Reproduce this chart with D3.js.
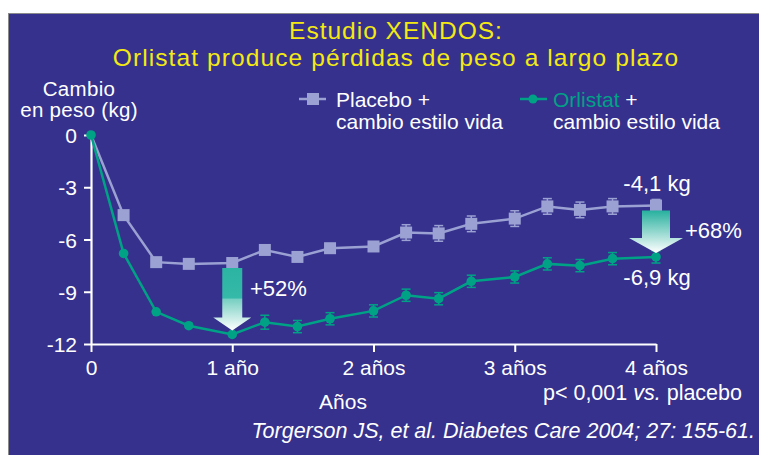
<!DOCTYPE html>
<html>
<head>
<meta charset="utf-8">
<script src="https://cdn.jsdelivr.net/npm/d3@7"></script>
<style>
  body { margin: 0; background: #fff; }
  svg text { font-family: "Liberation Sans", Arial, sans-serif; }
</style>
</head>
<body>
<script>
// weeks since start, values in kg
var weeks = [0, 12, 24, 36, 52, 64, 76, 88, 104, 116, 128, 140, 156, 168, 180, 192, 208];
var placebo = [0, -4.6, -7.3, -7.4, -7.35, -6.6, -7.0, -6.5, -6.4, -5.6, -5.65, -5.1, -4.8, -4.1, -4.3, -4.1, -4.05];
var placeboErr = [0, 0, 0, 0, 0, 0, 0, 0, 0, 0.45, 0.45, 0.45, 0.45, 0.45, 0.45, 0.45, 0.35];
var orlistat = [0, -6.8, -10.15, -10.95, -11.45, -10.75, -11.0, -10.55, -10.1, -9.2, -9.4, -8.4, -8.15, -7.4, -7.5, -7.1, -7.0];
var orlistatErr = [0, 0, 0, 0, 0, 0.4, 0.35, 0.35, 0.35, 0.35, 0.35, 0.35, 0.35, 0.35, 0.35, 0.35, 0.35];
var xTicks = [0, 52, 104, 156, 208];
var xTickLabels = ["0", "1 año", "2 años", "3 años", "4 años"];
var yTicks = [0, -3, -6, -9, -12];

var W = 759, H = 455;
var bg = "#35318d", placeboCol = "#9ba1d2", orlCol = "#00a286", yellow = "#f4ea12";

var svg = d3.select("body").append("svg")
    .attr("width", W)
    .attr("height", H);

var defs = svg.append("defs");
var g1 = defs.append("linearGradient").attr("id", "arrowA")
    .attr("x1", 0).attr("y1", 0).attr("x2", 0).attr("y2", 1);
g1.append("stop").attr("offset", "0%").attr("stop-color", "#2cb4a2");
g1.append("stop").attr("offset", "48%").attr("stop-color", "#35b9a8");
g1.append("stop").attr("offset", "50%").attr("stop-color", "#77cfc2");
g1.append("stop").attr("offset", "100%").attr("stop-color", "#ffffff");
var g2 = defs.append("linearGradient").attr("id", "arrowB")
    .attr("x1", 0).attr("y1", 0).attr("x2", 0).attr("y2", 1);
g2.append("stop").attr("offset", "0%").attr("stop-color", "#27b09e");
g2.append("stop").attr("offset", "100%").attr("stop-color", "#ffffff");

// panel
svg.append("rect")
    .attr("x", 8.5).attr("y", 13.5)
    .attr("width", W).attr("height", H)
    .attr("fill", bg)
    .attr("stroke", "#8a8a8a")
    .attr("stroke-width", 1);

// title
svg.append("text").attr("x", 396).attr("y", 38.5)
    .attr("text-anchor", "middle").attr("fill", yellow)
    .style("font-size", "24.5px").style("letter-spacing", "1px")
    .text("Estudio XENDOS:");
svg.append("text").attr("x", 396).attr("y", 66)
    .attr("text-anchor", "middle").attr("fill", yellow)
    .style("font-size", "24.5px").style("letter-spacing", "1.1px")
    .text("Orlistat produce pérdidas de peso a largo plazo");

// y label
svg.append("text").attr("x", 79).attr("y", 95.5)
    .attr("text-anchor", "middle").attr("fill", "#fff")
    .style("font-size", "20.5px").style("letter-spacing", "0.3px").text("Cambio");
svg.append("text").attr("x", 79).attr("y", 116.5)
    .attr("text-anchor", "middle").attr("fill", "#fff")
    .style("font-size", "20.5px").style("letter-spacing", "0.3px").text("en peso (kg)");

var x = d3.scaleLinear().domain([0, 208]).range([91, 656]);
var y = d3.scaleLinear().domain([-12, 0]).range([344, 135]);

// axes
var yAxis = svg.append("g")
    .attr("transform", "translate(" + x(0) + ",0)")
    .call(d3.axisLeft(y).tickValues(yTicks).tickSize(7).tickSizeOuter(0)
        .tickFormat(function(d) { return d === 0 ? "0" : String(d); }));
var xAxis = svg.append("g")
    .attr("transform", "translate(0," + y(-12) + ")")
    .call(d3.axisBottom(x).tickValues(xTicks).tickSize(8).tickSizeOuter(0)
        .tickFormat(function(d, i) { return xTickLabels[i]; }));

[yAxis, xAxis].forEach(function(a) {
    a.select(".domain").attr("stroke", "#fff").attr("stroke-width", 2.2);
    a.selectAll(".tick line").attr("stroke", "#fff").attr("stroke-width", 2);
    a.selectAll(".tick text").attr("fill", "#fff")
        .style("font-size", "21px")
        .style("font-family", "Liberation Sans, Arial, sans-serif");
});
yAxis.selectAll(".tick text").attr("x", -14).attr("dy", "0.36em");
xAxis.selectAll(".tick text").attr("y", 16).attr("dy", "0.71em");

svg.append("text").attr("x", 343).attr("y", 409)
    .attr("text-anchor", "middle").attr("fill", "#fff")
    .style("font-size", "21px").text("Años");

var pv = svg.append("text").attr("x", 742).attr("y", 400)
    .attr("text-anchor", "end").attr("fill", "#fff")
    .style("font-size", "21.5px");
pv.append("tspan").text("p< 0,001 ");
pv.append("tspan").style("font-style", "italic").text("vs.");
pv.append("tspan").text(" placebo");

svg.append("text").attr("x", 755).attr("y", 438)
    .attr("text-anchor", "end").attr("fill", "#fff")
    .style("font-size", "21.5px").style("font-style", "italic")
    .text("Torgerson JS, et al. Diabetes Care 2004; 27: 155-61.");

// series
var placeboData = weeks.map(function(w, i) { return {w: w, v: placebo[i], e: placeboErr[i]}; });
var orlData = weeks.map(function(w, i) { return {w: w, v: orlistat[i], e: orlistatErr[i]}; });

var line = d3.line()
    .x(function(d) { return x(d.w); })
    .y(function(d) { return y(d.v); });

function errorBars(data, col) {
    var eb = svg.append("g").selectAll("g")
        .data(data.filter(function(d) { return d.e > 0; }))
        .enter().append("g");
    eb.append("line")
        .attr("x1", function(d) { return x(d.w); })
        .attr("x2", function(d) { return x(d.w); })
        .attr("y1", function(d) { return y(d.v - d.e); })
        .attr("y2", function(d) { return y(d.v + d.e); })
        .attr("stroke", col).attr("stroke-width", 1.5);
    [1, -1].forEach(function(s) {
        eb.append("line")
            .attr("x1", function(d) { return x(d.w) - 4.5; })
            .attr("x2", function(d) { return x(d.w) + 4.5; })
            .attr("y1", function(d) { return y(d.v + s * d.e); })
            .attr("y2", function(d) { return y(d.v + s * d.e); })
            .attr("stroke", col).attr("stroke-width", 1.5);
    });
}

errorBars(placeboData, placeboCol);
errorBars(orlData, orlCol);

svg.append("path").datum(placeboData)
    .attr("d", line).attr("fill", "none")
    .attr("stroke", placeboCol).attr("stroke-width", 2.5);
svg.append("path").datum(orlData)
    .attr("d", line).attr("fill", "none")
    .attr("stroke", orlCol).attr("stroke-width", 2.5);

svg.selectAll(".sq").data(placeboData.slice(1))
    .enter().append("rect")
    .attr("class", "sq")
    .attr("x", function(d) { return x(d.w) - 6; })
    .attr("y", function(d) { return y(d.v) - 6; })
    .attr("width", 12).attr("height", 12)
    .attr("fill", placeboCol);

svg.selectAll(".dot").data(orlData)
    .enter().append("circle")
    .attr("class", "dot")
    .attr("cx", function(d) { return x(d.w); })
    .attr("cy", function(d) { return y(d.v); })
    .attr("r", 4.8)
    .attr("fill", orlCol);

// arrows between the two series
function arrow(i, shaftW, headW, headH, fill) {
    var cx = x(weeks[i]);
    var top = y(placebo[i]) + 5;
    var tip = y(orlistat[i]) - 4;
    var hy = tip - headH;
    var p = [
        [cx - shaftW, top], [cx + shaftW, top], [cx + shaftW, hy], [cx + headW, hy],
        [cx, tip], [cx - headW, hy], [cx - shaftW, hy]
    ];
    svg.append("path")
        .attr("d", "M" + p.join("L") + "Z")
        .attr("fill", fill);
}
arrow(4, 10, 19, 13, "url(#arrowA)");
arrow(16, 14, 27, 15, "url(#arrowB)");

function label(tx, ty, txt, anchor) {
    svg.append("text").attr("x", tx).attr("y", ty)
        .attr("text-anchor", anchor || "start").attr("fill", "#fff")
        .style("font-size", "22px").text(txt);
}
label(250, 296, "+52%");
label(x(208) + 1, 191, "-4,1 kg", "middle");
label(685, 238, "+68%");
label(x(208) + 1, 285, "-6,9 kg", "middle");

// legend
var lg = svg.append("g");
lg.append("line").attr("x1", 299).attr("x2", 326).attr("y1", 99).attr("y2", 99)
    .attr("stroke", placeboCol).attr("stroke-width", 2.5);
lg.append("rect").attr("x", 307).attr("y", 93).attr("width", 12).attr("height", 12)
    .attr("fill", placeboCol);
lg.append("text").attr("x", 336).attr("y", 107).attr("fill", "#fff")
    .style("font-size", "21px").text("Placebo +");
lg.append("text").attr("x", 336).attr("y", 129).attr("fill", "#fff")
    .style("font-size", "21px").text("cambio estilo vida");

lg.append("line").attr("x1", 520).attr("x2", 547).attr("y1", 99).attr("y2", 99)
    .attr("stroke", orlCol).attr("stroke-width", 2.5);
lg.append("circle").attr("cx", 533).attr("cy", 99).attr("r", 4.5).attr("fill", orlCol);
var ol = lg.append("text").attr("x", 553).attr("y", 107).attr("fill", "#fff")
    .style("font-size", "21px");
ol.append("tspan").attr("fill", orlCol).text("Orlistat");
ol.append("tspan").text(" +");
lg.append("text").attr("x", 553).attr("y", 129).attr("fill", "#fff")
    .style("font-size", "21px").text("cambio estilo vida");
</script>
</body>
</html>
